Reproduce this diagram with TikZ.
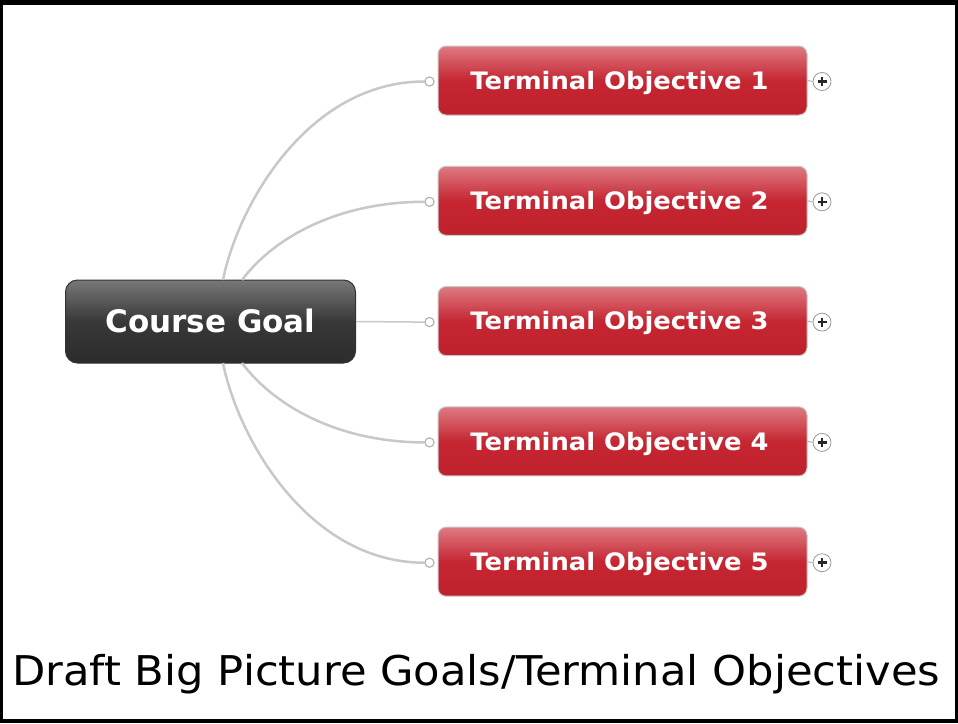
\documentclass[tikz,border=0pt]{standalone}
\usepackage{fontspec}
\setmainfont{DejaVu Sans}
\usetikzlibrary{calc}
\definecolor{linkgray}{HTML}{C8C8C8}
\definecolor{redtop}{RGB}{222,122,130}
\definecolor{redmid}{RGB}{197,38,50}
\definecolor{redbot}{RGB}{190,32,44}
\definecolor{darktop}{RGB}{120,120,120}
\definecolor{darkmid}{RGB}{56,56,56}
\definecolor{darkbot}{RGB}{44,44,44}
\begin{document}
\begin{tikzpicture}[x=1pt,y=-1pt,
  goalbox/.style={rounded corners=12pt, minimum width=290pt, minimum height=83pt,
    inner sep=0pt, top color=darktop, bottom color=darkbot, middle color=darkmid,
    draw=black!80, line width=1pt, text=white,
    font=\fontsize{31}{31}\selectfont\bfseries, text height=22.6pt, text depth=0pt},
  objbox/.style={rounded corners=8pt, minimum width=369pt, minimum height=69pt,
    inner sep=0pt, top color=redtop, bottom color=redbot, middle color=redmid,
    draw=black!22, line width=1pt, text=white,
    font=\fontsize{24}{24}\selectfont\bfseries, text height=17.5pt, text depth=0pt},
  link/.style={draw=linkgray, line width=2.5pt},
  port/.style={circle, fill=white, draw=black!30, line width=1pt, minimum size=9pt, inner sep=0pt},
  expander/.style={circle, fill=white, draw=black!40, line width=0.8pt, minimum size=18pt, inner sep=0pt,
    path picture={
      \draw[line width=2.6pt, black!85] ([xshift=-4.5pt]path picture bounding box.center) -- ([xshift=4.5pt]path picture bounding box.center);
      \draw[line width=2.6pt, black!85] ([yshift=-4.5pt]path picture bounding box.center) -- ([yshift=4.5pt]path picture bounding box.center);
    }},
  stub/.style={draw=black!30, line width=1pt}
]
\useasboundingbox (0,0) rectangle (958,723);
% frame
\fill[black] (0,0) rectangle (958,723);
\fill[white] (2.5,5) rectangle (955.3,719);

% nodes
\node[goalbox] (cg) at (210.5,321.5) {Course Goal};
\foreach \i/\y in {1/80.5,2/200.8,3/321.1,4/441.4,5/561.7}{
  \node[objbox] (t\i) at (622.5,\y) {\scalebox{1.075}[1]{Terminal Objective \i}\kern6pt};
  \node[port] (p\i) at (429.5,\y+1) {};
  \node[expander] (x\i) at (822,\y+1) {};
  \draw[stub] (t\i.east) -- (x\i.west);
}

\coordinate (s1) at (223,280);
\coordinate (s2) at (242,280);
\coordinate (s4) at (242,363);
\coordinate (s5) at (223,363);

% connectors
\draw[link] (s1) .. controls (238,205) and (308,81.5) .. (p1.west);
\draw[link] (s2) .. controls (275,236) and (340,201.8) .. (p2.west);
\draw[link, line width=1.5pt] (cg.east) -- (p3.west);
\draw[link] (s4) .. controls (275,407) and (340,442.4) .. (p4.west);
\draw[link] (s5) .. controls (238,438) and (308,562.7) .. (p5.west);
% redraw ports on top
\foreach \i in {1,...,5}{
  \node[port] at (p\i) {};
}

% caption
\node[anchor=base west, inner sep=0pt, font=\fontsize{41}{41}\selectfont] (cap) at (12,685)
  {\scalebox{1.055}[1]{Draft Big Picture Goals/Terminal Objectives}};
\end{tikzpicture}
\end{document}
